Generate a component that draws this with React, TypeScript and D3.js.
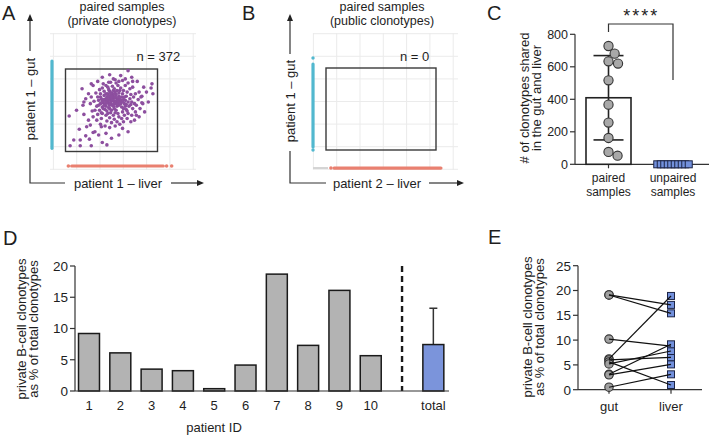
import React from 'react';
import * as d3 from 'd3';

const FONT = "'Liberation Sans', Arial, Helvetica, sans-serif";
const INK = '#1e1e1e';

// ---------------- Panel A / B data (units relative to the gated box, 0-100) ----------------
const privateClonotypes: [number, number][] = [
  [43,62],[45,66],[47,58],[49,63],[51,69],[53,61],[55,65],[57,59],[44,55],[46,70],[48,52],[50,57],[52,64],[54,72],[56,55],[58,67],[60,62],[42,68],[41,59],[39,64],
  [62,70],[64,58],[61,54],[59,74],[47,75],[50,71],[53,76],[45,49],[49,47],[55,50],[57,46],[52,44],[43,51],[40,54],[38,58],[36,62],[63,63],[66,67],[65,55],[68,60],
  [70,64],[67,72],[60,77],[57,80],[51,79],[46,78],[42,73],[38,70],[35,66],[34,55],[37,50],[40,46],[44,44],[48,41],[53,39],[58,42],[62,48],[66,51],[69,55],[72,60],
  [71,69],[74,66],[75,58],[63,74],[55,83],[49,84],[44,80],[40,77],[33,71],[31,61],[32,50],[35,45],[39,40],[45,37],[50,35],[56,36],[61,40],[64,44],[68,46],[73,52],
  [77,56],[79,63],[76,70],[70,76],[65,80],[58,85],[52,88],[47,84],[41,82],[37,75],[28,66],[27,58],[29,49],[30,42],[34,38],[38,33],[43,31],[48,29],[54,31],[59,33],
  [63,36],[67,40],[72,44],[76,48],[81,52],[84,58],[82,66],[80,72],[73,78],[68,83],[62,86],
  [46,60],[48,65],[50,61],[52,67],[54,58],[56,62],[58,56],[44,64],[47,53],[51,56],[53,52],[55,69],[57,64],[49,68],[45,60],[59,61],[61,66],[43,57],[42,63],[60,58],
  [50,50],[54,47],[46,46],[48,73],[52,74],[56,74],[62,60],[64,66],[40,61],[38,66],[41,52],[63,52],[66,57],[58,71],[44,70],[36,56],[39,47],[65,62],[67,49],[71,57],
  [68,98],[18,76],[30,80],[54,87],[65,88],[73,85],[93,77],[88,72],[83,67],[83,59],[77,44],[71,36],[68,24],[58,20],[50,16],[40,11],[28,7],[16,7],[5,7],[9,14],
  [16,14],[22,19],[4,43],[12,50],[19,56],[22,64],[32,24],[39,30],[45,8],[36,20],[27,32],
  [25,38],[20,45],[23,30],[15,27],[30,23],[26,15],[44,22],[62,28],[75,38],[80,42],[86,48],[90,60],[95,70],[85,78],[78,85],[94,82],[20,60],[25,70],[28,82],[35,85],
  [40,90],[60,92],[48,93],[72,90],
  [47,62],[51,63],[53,58],[49,59],[55,61],[45,63],[50,66],[54,66],[48,56],[52,55],[57,61],[44,59],[56,58],[46,67],[59,64],[42,56],[53,70],[49,71]
];
// marginal (single-compartment) clonotypes: extents of the dense bands and isolated dots
const gutBandA = [3.9, 109.7];
const gutDotsA: number[] = [];
const liverBandA = [6.7, 106.3];
const liverDotsA = [3.1, 109.9, 115.4];
const gutBandB = [3.7, 104.9];
const gutDotsB = [0, 112.2];
const liverBandB = [7.3, 104.5];
const liverDotsB = [4.5];

// ---------------- Panel C data ----------------
const cCategories = ['paired', 'unpaired'];
const pairedShared = [728, 681, 634, 620, 517, 367, 257, 162, 76, 53];
const unpairedShared = [0, 0, 0, 0, 0, 0, 0, 0, 0, 0];
const cTicks = [0, 200, 400, 600, 800];

// ---------------- Panel D data ----------------
const patientIDs = ['1', '2', '3', '4', '5', '6', '7', '8', '9', '10'];
const privatePct = [9.2, 6.1, 3.5, 3.25, 0.37, 4.15, 18.7, 7.3, 16.1, 5.65];
const dTicks = [0, 5, 10, 15, 20];

// ---------------- Panel E data ----------------
const eCategories = ['gut', 'liver'];
const gutPct = [19.1, 19.1, 10.2, 6.2, 6.0, 5.6, 5.2, 3.1, 3.0, 0.5];
const liverPct = [17.1, 15.4, 8.8, 18.9, 6.5, 0.95, 7.8, 9.15, 5.1, 3.1];
const eTicks = [0, 5, 10, 15, 20, 25];

// ---------------- helpers ----------------
function swarm(values: number[], y: (v: number) => number, r: number): number[] {
  const order = values.map((v, i) => i).sort((a, b) => values[b] - values[a]);
  const placed: { x: number; y: number }[] = [];
  const out = new Array(values.length).fill(0);
  const d = 2 * r;
  for (const i of order) {
    const py = y(values[i]);
    const cands = [0];
    for (const p of placed) {
      const dy = Math.abs(p.y - py);
      if (dy < d) {
        const dx = Math.sqrt(d * d - dy * dy);
        cands.push(p.x + dx, p.x - dx);
      }
    }
    cands.sort((a, b) => Math.abs(a) - Math.abs(b) || b - a);
    let chosen = 0;
    for (const c of cands) {
      if (placed.every(p => Math.hypot(p.x - c, p.y - py) >= d - 0.01)) { chosen = c; break; }
    }
    placed.push({ x: chosen, y: py });
    out[i] = chosen;
  }
  return out;
}

function ScatterPanel({ c }: { c: any }) {
  const [gx0, gx1, gy0, gy1] = c.grid;
  const [bx0, bx1, by0, by1] = c.box;
  const x = d3.scaleLinear().domain([0, 100]).range([bx0, bx1]);
  const y = d3.scaleLinear().domain([0, 100]).range([by1, by0]);
  const vLines = d3.range(c.gridStartX, gx1, 23.3);
  const hLines = d3.range(169.3, gy0 - 1, -22.6);
  const gutX = x(c.gutPos);
  const liverY = y(c.liverPos);
  const cornerY = 183;
  return (
    <g>
      <text x={c.letterX} y={20} fontSize={20} fill={INK}>{c.letter}</text>
      <text x={c.titleX} y={10.5} fontSize={12.5} textAnchor="middle" fill={INK}>paired samples</text>
      <text x={c.titleX} y={24.5} fontSize={12.5} textAnchor="middle" fill={INK}>{c.subtitle}</text>
      {vLines.map((v: number, i: number) => <line key={'v' + i} x1={v} x2={v} y1={gy0} y2={gy1} stroke="#ebebeb" strokeWidth={1} />)}
      {hLines.map((v: number, i: number) => <line key={'h' + i} x1={gx0} x2={gx1} y1={v} y2={v} stroke="#ebebeb" strokeWidth={1} />)}
      {c.stub && <line x1={x(c.stub[0])} x2={x(c.stub[1])} y1={liverY} y2={liverY} stroke="#d4d4d4" strokeWidth={2} />}
      <line x1={gutX} x2={gutX} y1={y(c.gutBand[0])} y2={y(c.gutBand[1])} stroke="#52b8cf" strokeWidth={3.2} strokeLinecap="round" />
      {c.gutDots.map((v: number, i: number) => <circle key={'gd' + i} cx={gutX} cy={y(v)} r={1.7} fill="#52b8cf" />)}
      <line x1={x(c.liverBand[0])} x2={x(c.liverBand[1])} y1={liverY} y2={liverY} stroke="#e98070" strokeWidth={3.2} strokeLinecap="round" />
      {c.liverDots.map((v: number, i: number) => <circle key={'ld' + i} cx={x(v)} cy={liverY} r={1.8} fill="#e98070" />)}
      <rect x={bx0} y={by0} width={bx1 - bx0} height={by1 - by0} fill="none" stroke="#3a3a3a" strokeWidth={1.4} />
      {c.points.map((p: [number, number], i: number) => <circle key={'p' + i} cx={x(p[0])} cy={y(p[1])} r={1.8} fill="#8d4f9f" />)}
      <text x={c.nX} y={61} fontSize={13} fill={INK}>{c.nLabel}</text>
      <line x1={c.ax} x2={c.ax} y1={18} y2={c.vTopEnd} stroke="#333" strokeWidth={1.2} />
      <path d={`M${c.ax},14 L${c.ax - 3},21 L${c.ax + 3},21 Z`} fill="#222" />
      <text transform={`translate(${c.ax + 4.5},${c.vCenter}) rotate(-90)`} fontSize={13} textAnchor="middle" fill={INK}>{c.vLabel}</text>
      <polyline points={`${c.ax},${c.vBotStart} ${c.ax},${cornerY} ${c.hLeftEnd},${cornerY}`} fill="none" stroke="#333" strokeWidth={1.2} />
      <text x={c.hCenter} y={187.5} fontSize={13} textAnchor="middle" fill={INK}>{c.hLabel}</text>
      <line x1={c.hRightStart} x2={c.tipX - 3} y1={cornerY} y2={cornerY} stroke="#333" strokeWidth={1.2} />
      <path d={`M${c.tipX},${cornerY} L${c.tipX - 7},${cornerY - 3} L${c.tipX - 7},${cornerY + 3} Z`} fill="#222" />
    </g>
  );
}

const cfgA: any = {
  letter: 'A', letterX: 2, titleX: 122, subtitle: '(private clonotypes)',
  grid: [50, 196, 33, 170], gridStartX: 53.4, box: [65.5, 157.5, 69, 151.5],
  nLabel: 'n = 372', nX: 136.5, gutPos: -14.7, liverPos: -17.6,
  ax: 30, vCenter: 99, vTopEnd: 51, vBotStart: 147, vLabel: 'patient 1 \u2013 gut',
  hLabel: 'patient 1 \u2013 liver', hCenter: 118, hLeftEnd: 65, hRightStart: 171, tipX: 204,
  points: privateClonotypes, gutBand: gutBandA, gutDots: gutDotsA, liverBand: liverBandA, liverDots: liverDotsA,
};
const cfgB: any = {
  letter: 'B', letterX: 242, titleX: 382, subtitle: '(public clonotypes)',
  grid: [313, 458, 33, 170], gridStartX: 313.4, box: [326, 436, 68, 150],
  nLabel: 'n = 0', nX: 400, gutPos: -11.8, liverPos: -22,
  ax: 290, vCenter: 101, vTopEnd: 54, vBotStart: 151, vLabel: 'patient 1 \u2013 gut',
  hLabel: 'patient 2 \u2013 liver', hCenter: 377, hLeftEnd: 326, hRightStart: 429, tipX: 464,
  points: [], gutBand: gutBandB, gutDots: gutDotsB, liverBand: liverBandB, liverDots: liverDotsB, stub: [-11.8, 1.8],
};

function PanelC() {
  const y = d3.scaleLinear().domain([0, 800]).range([164.3, 34.3]);
  const x = d3.scalePoint<string>().domain(cCategories).range([576.25, 705.25]).padding(0.5);
  const axX = 575;
  const mean = d3.mean(pairedShared)!;
  const sd = d3.deviation(pairedShared)!;
  const cx = x('paired')!;
  const ux = x('unpaired')!;
  const r = 4.6;
  const offs = swarm(pairedShared, y, r + 0.3);
  const sq = 7;
  return (
    <g>
      <text x={487} y={20} fontSize={20} fill={INK}>C</text>
      <text transform={`translate(529,98) rotate(-90)`} fontSize={13} textAnchor="middle" fill={INK}># of clonotypes shared</text>
      <text transform={`translate(541,98) rotate(-90)`} fontSize={13} textAnchor="middle" fill={INK}>in the gut and liver</text>
      <line x1={axX} x2={axX} y1={y(800)} y2={y(0)} stroke="#333" strokeWidth={1.2} />
      <line x1={axX} x2={709} y1={y(0)} y2={y(0)} stroke="#333" strokeWidth={1.2} />
      {cTicks.map(t => (
        <g key={t}>
          <line x1={axX - 5} x2={axX} y1={y(t)} y2={y(t)} stroke="#333" strokeWidth={1.2} />
          <text x={axX - 7} y={y(t)} dy="0.36em" fontSize={12.5} textAnchor="end" fill={INK}>{t}</text>
        </g>
      ))}
      {cCategories.map(cat => <line key={cat} x1={x(cat)} x2={x(cat)} y1={y(0)} y2={y(0) + 4} stroke="#333" strokeWidth={1.2} />)}
      <text x={cx} y={181.5} fontSize={12} textAnchor="middle" fill={INK}>paired</text>
      <text x={cx} y={195.5} fontSize={12} textAnchor="middle" fill={INK}>samples</text>
      <text x={ux} y={181.5} fontSize={12} textAnchor="middle" fill={INK}>unpaired</text>
      <text x={ux} y={195.5} fontSize={12} textAnchor="middle" fill={INK}>samples</text>
      <rect x={cx - 22.5} y={y(mean)} width={45} height={y(0) - y(mean)} fill="#fff" stroke="#222" strokeWidth={1.6} />
      <line x1={cx} x2={cx} y1={y(mean - sd)} y2={y(mean + sd)} stroke="#222" strokeWidth={1.6} />
      <line x1={cx - 15} x2={cx + 15} y1={y(mean + sd)} y2={y(mean + sd)} stroke="#222" strokeWidth={1.6} />
      <line x1={cx - 15} x2={cx + 15} y1={y(mean - sd)} y2={y(mean - sd)} stroke="#222" strokeWidth={1.6} />
      {pairedShared.map((v, i) => <circle key={i} cx={cx + offs[i]} cy={y(v)} r={r} fill="#a8a8a8" stroke="#333" strokeWidth={1.1} />)}
      {unpairedShared.map((v, i) => (
        <rect key={i} x={ux + (i - (unpairedShared.length - 1) / 2) * 3.5 - sq / 2} y={y(v) - sq / 2} width={sq} height={sq}
          fill="#7290dc" stroke="#1c2445" strokeWidth={1} />
      ))}
      <path d={`M${cx},32 V24 H${ux} V80`} fill="none" stroke="#333" strokeWidth={1.2} />
      <text x={(cx + ux) / 2 + 0.5} y={22} fontSize={18} textAnchor="middle" letterSpacing={2} fill={INK}>****</text>
    </g>
  );
}

function PanelD() {
  const y = d3.scaleLinear().domain([0, 20]).range([391, 266]);
  const cats = [...patientIDs, 'gap', 'total'];
  const x = d3.scaleBand<string>().domain(cats).range([73.35, 449]).paddingInner(0.33).paddingOuter(0.165);
  const bw = x.bandwidth();
  const mean = d3.mean(privatePct)!;
  const sd = d3.deviation(privatePct)!;
  const tx = x('total')! + bw / 2;
  const gapX = x('gap')! + bw / 2;
  return (
    <g>
      <text x={3} y={245} fontSize={20} fill={INK}>D</text>
      <text transform={`translate(26,329) rotate(-90)`} fontSize={13} textAnchor="middle" fill={INK}>private B-cell clonotypes</text>
      <text transform={`translate(38,329) rotate(-90)`} fontSize={13} textAnchor="middle" fill={INK}>as % of total clonotypes</text>
      {privatePct.map((v, i) => (
        <rect key={i} x={x(patientIDs[i])!} y={y(v)} width={bw} height={y(0) - y(v)} fill="#b3b3b3" stroke="#1a1a1a" strokeWidth={1.5} />
      ))}
      <line x1={tx} x2={tx} y1={y(mean)} y2={y(mean + sd)} stroke="#333" strokeWidth={1.5} />
      <line x1={tx - 4} x2={tx + 4} y1={y(mean + sd)} y2={y(mean + sd)} stroke="#333" strokeWidth={1.5} />
      <rect x={x('total')!} y={y(mean)} width={bw} height={y(0) - y(mean)} fill="#7b94db" stroke="#1a1a1a" strokeWidth={1.5} />
      <line x1={gapX} x2={gapX} y1={y(20)} y2={y(0)} stroke="#1a1a1a" strokeWidth={2.4} strokeDasharray="6,4" />
      <line x1={75} x2={75} y1={y(20)} y2={y(0)} stroke="#333" strokeWidth={1.2} />
      <line x1={75} x2={449} y1={y(0)} y2={y(0)} stroke="#333" strokeWidth={1.2} />
      {dTicks.map(t => (
        <g key={t}>
          <line x1={70} x2={75} y1={y(t)} y2={y(t)} stroke="#333" strokeWidth={1.2} />
          <text x={68} y={y(t)} dy="0.36em" fontSize={13.5} textAnchor="end" fill={INK}>{t}</text>
        </g>
      ))}
      {[...patientIDs, 'total'].map(c => (
        <text key={c} x={x(c)! + bw / 2} y={410} fontSize={13} textAnchor="middle" fill={INK}>{c}</text>
      ))}
      <text x={214} y={432} fontSize={13} textAnchor="middle" fill={INK}>patient ID</text>
    </g>
  );
}

function PanelE() {
  const y = d3.scaleLinear().domain([0, 25]).range([389.7, 265.7]);
  const x = d3.scalePoint<string>().domain(eCategories).range([578, 702]).padding(0.5);
  const gx = x('gut')!;
  const lx = x('liver')!;
  const sq = 7;
  return (
    <g>
      <text x={488} y={244} fontSize={20} fill={INK}>E</text>
      <text transform={`translate(532,327) rotate(-90)`} fontSize={13} textAnchor="middle" fill={INK}>private B-cell clonotypes</text>
      <text transform={`translate(544,327) rotate(-90)`} fontSize={13} textAnchor="middle" fill={INK}>as % of total clonotypes</text>
      <line x1={578} x2={578} y1={y(25)} y2={y(0)} stroke="#333" strokeWidth={1.2} />
      <line x1={578} x2={702} y1={y(0)} y2={y(0)} stroke="#333" strokeWidth={1.2} />
      {eTicks.map(t => (
        <g key={t}>
          <line x1={573} x2={578} y1={y(t)} y2={y(t)} stroke="#333" strokeWidth={1.2} />
          <text x={571} y={y(t)} dy="0.36em" fontSize={13.5} textAnchor="end" fill={INK}>{t}</text>
        </g>
      ))}
      {eCategories.map(c => (
        <g key={c}>
          <line x1={x(c)} x2={x(c)} y1={y(0)} y2={y(0) + 4} stroke="#333" strokeWidth={1.2} />
          <text x={x(c)} y={411} fontSize={13} textAnchor="middle" fill={INK}>{c}</text>
        </g>
      ))}
      {gutPct.map((g, i) => <circle key={'c' + i} cx={gx} cy={y(g)} r={4.2} fill="#a0a0a0" stroke="#333" strokeWidth={1.1} />)}
      {liverPct.map((v, i) => <rect key={'s' + i} x={lx - sq / 2} y={y(v) - sq / 2} width={sq} height={sq} fill="#7290dc" stroke="#1c2445" strokeWidth={1} />)}
      {gutPct.map((g, i) => <line key={'l' + i} x1={gx} x2={lx} y1={y(g)} y2={y(liverPct[i])} stroke="#111" strokeWidth={1.2} />)}
    </g>
  );
}

export default function App() {
  return (
    <svg width={709} height={435} viewBox="0 0 709 435" style={{ position: 'absolute', left: 0, top: 0, background: '#fff' }}
      fontFamily={FONT}>
      <rect x={0} y={0} width={709} height={435} fill="#fff" />
      <ScatterPanel c={cfgA} />
      <ScatterPanel c={cfgB} />
      <PanelC />
      <PanelD />
      <PanelE />
    </svg>
  );
}
